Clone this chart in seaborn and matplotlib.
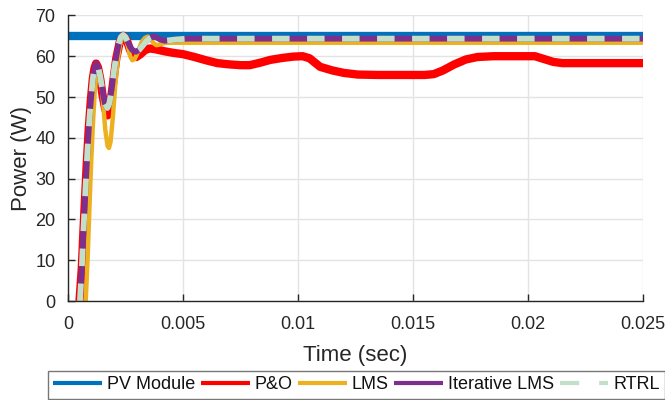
import matplotlib
matplotlib.use("Agg")
import matplotlib.pyplot as plt
import seaborn as sns
import pandas as pd
from matplotlib.lines import Line2D

# ---------------- data (time in ms, power in W) ----------------
t_pv = [0.0, 25.0]
p_pv = [65.0, 65.0]

t_po = [0.5, 0.6, 0.67, 0.74, 0.81, 0.9, 0.99, 1.08, 1.15, 1.22, 1.3, 1.4, 1.5,
        1.62, 1.72, 1.82, 1.95, 2.1, 2.25, 2.4, 2.55, 2.7, 2.85, 2.97, 3.15, 3.35,
        3.55, 3.8, 4.2, 4.6, 5.0, 5.5, 6.0, 6.5, 7.0, 7.5, 7.9, 8.35, 8.8, 9.35,
        9.8, 10.2, 10.5, 10.96, 11.5, 12.0, 12.6, 13.5, 14.5, 15.5, 15.9, 16.3,
        16.8, 17.3, 17.8, 18.5, 19.5, 20.3, 20.7, 21.1, 21.5, 22.5, 25.0]
p_po = [0, 8, 17, 25, 33, 42, 49, 54.5, 57, 58.2, 57.3, 54.5, 50.5,
        47, 45.5, 47.5, 53, 59.5, 63.5, 65, 64, 61.5, 60, 59.8, 60.5, 61.5,
        61.9, 61.7, 61.2, 60.8, 60.5, 59.8, 59, 58.3, 58, 57.8, 57.8, 58.4, 59.1, 59.6,
        59.9, 60, 59.5, 57.4, 56.5, 55.9, 55.5, 55.4, 55.4, 55.4, 55.6, 56.5,
        58, 59.2, 59.8, 60, 60, 60, 59.3, 58.6, 58.3, 58.3, 58.3]

t_lms = [0.77, 0.85, 0.92, 1.0, 1.08, 1.16, 1.24, 1.32, 1.42, 1.52, 1.62, 1.72,
         1.78, 1.85, 1.95, 2.05, 2.15, 2.25, 2.35, 2.42, 2.5, 2.6, 2.7, 2.8, 2.9,
         3.0, 3.1, 3.2, 3.35, 3.48, 3.6, 3.72, 3.84, 3.95, 4.1, 4.3, 4.6, 5.0, 25.0]
p_lms = [0, 10, 21, 33, 43, 51, 56, 57.5, 55, 49, 42, 38,
         37.5, 39, 45, 52.5, 58.5, 62.5, 64.5, 65, 64.5, 62.5, 60, 59, 59.3,
         60.5, 62, 63.5, 64.5, 64.8, 64.2, 63.2, 62.7, 62.8, 63.1, 63.3, 63.3, 63.3, 63.3]

t_ilms = [0.52, 0.6, 0.67, 0.74, 0.81, 0.9, 0.99, 1.08, 1.15, 1.22, 1.3, 1.4, 1.5,
          1.6, 1.71, 1.8, 1.9, 2.0, 2.1, 2.2, 2.3, 2.4, 2.5, 2.6, 2.7, 2.8, 2.96,
          3.1, 3.25, 3.4, 3.55, 3.7, 3.85, 4.0, 4.2, 4.4, 4.7, 5.2, 6.0, 25.0]
p_ilms = [0, 8, 17, 25, 33, 42, 49, 54.5, 57, 58.2, 57.5, 55, 51.5,
          48.5, 47.3, 48.5, 52, 56.5, 60, 63, 64.7, 65.2, 64.7, 63.5, 62.3, 61.5, 61.1,
          61.6, 62.6, 63.7, 64.4, 64.8, 64.6, 64.1, 63.8, 63.9, 64.1, 64.3, 64.3, 64.3]

t_rtrl = [0.52, 0.6, 0.67, 0.74, 0.81, 0.9, 0.99, 1.08, 1.15, 1.22, 1.3, 1.4, 1.5,
          1.6, 1.71, 1.8, 1.9, 2.0, 2.1, 2.2, 2.3, 2.4, 2.5, 2.6, 2.7, 2.8, 2.96,
          3.1, 3.25, 3.4, 3.55, 3.7, 3.85, 4.0, 4.2, 4.4, 4.7, 5.2, 6.0, 25.0]
p_rtrl = [0, 8, 17, 25, 33, 42, 49, 54.5, 57, 58.2, 57.5, 55, 51.5,
          48.5, 47.3, 48.5, 52, 56.5, 60, 63, 64.7, 65.2, 64.7, 63.5, 62.3, 61.5, 61.1,
          61.6, 62.6, 63.7, 64.4, 64.8, 64.6, 64.1, 63.8, 63.9, 64.1, 64.3, 64.3, 64.3]

series_names = ["PV Module", "P&O", "LMS", "Iterative LMS", "RTRL"]
x_ticks = [0, 0.005, 0.01, 0.015, 0.02, 0.025]
x_tick_labels = ["0", "0.005", "0.01", "0.015", "0.02", "0.025"]
y_ticks = [0, 10, 20, 30, 40, 50, 60, 70]

# ---------------- style ----------------
sns.set_theme(style="white")
plt.rcParams["font.family"] = ["Liberation Sans", "DejaVu Sans"]

colors = {"PV Module": "#0072BD", "P&O": "#FF0000", "LMS": "#EDB120",
          "Iterative LMS": "#7E2F8E", "RTRL": "#C2E0C8"}
widths = {"PV Module": 6.0, "P&O": 6.0, "LMS": 3.2, "Iterative LMS": 4.2, "RTRL": 4.2}

frames = []
for name, t, p in [("PV Module", t_pv, p_pv), ("P&O", t_po, p_po), ("LMS", t_lms, p_lms),
                   ("Iterative LMS", t_ilms, p_ilms), ("RTRL", t_rtrl, p_rtrl)]:
    frames.append(pd.DataFrame({"time": [v / 1000.0 for v in t], "power": p, "series": name}))
df = pd.concat(frames, ignore_index=True)

fig = plt.figure(figsize=(6.65, 4.0), dpi=100)
ax = fig.add_axes([68 / 665, 1 - 301 / 400, (643 - 68) / 665, (301 - 15.4) / 400])

for name in series_names:
    sub = df[df["series"] == name]
    sns.lineplot(data=sub, x="time", y="power", ax=ax, color=colors[name],
                 linewidth=widths[name], legend=False, estimator=None, sort=False,
                 solid_capstyle="butt")
rt = ax.get_lines()[-1]
rt.set_dashes([3.0, 3.0])
rt.set_dash_capstyle("butt")

ax.set_xlim(0, 0.025)
ax.set_ylim(0, 70)
ax.set_xticks(x_ticks)
ax.set_xticklabels(x_tick_labels)
ax.set_yticks(y_ticks)
ax.grid(True, color="#e3e3e3", linewidth=1.0)
ax.set_axisbelow(True)
for s in ["top", "right"]:
    ax.spines[s].set_visible(False)
for s in ["left", "bottom"]:
    ax.spines[s].set_color("#262626")
    ax.spines[s].set_linewidth(1.0)
ax.tick_params(axis="both", direction="in", length=5, width=1, color="#262626",
               labelsize=13, labelcolor="#262626", left=True, bottom=True)
ax.tick_params(axis="y", pad=9)
ax.tick_params(axis="x", pad=11)
ax.set_xlabel("Time (sec)", fontsize=16, color="#262626")
ax.set_ylabel("Power (W)", fontsize=16, color="#262626")
ax.xaxis.set_label_coords((355 - 68) / 575, -(345 - 301) / 285.6)
ax.yaxis.set_label_coords(-(68 - 32) / 575, 0.5)

handles = []
for name in series_names:
    if name == "RTRL":
        h = Line2D([], [], color=colors[name], linewidth=3, dashes=[4.6, 4.8],
                   dash_capstyle="butt")
    else:
        h = Line2D([], [], color=colors[name], linewidth=3, solid_capstyle="butt")
    handles.append(h)
leg = fig.legend(handles, series_names, loc="upper left", bbox_to_anchor=(48 / 665, 1 - 371 / 400),
                 ncol=5, frameon=True, fancybox=False, fontsize=13, handlelength=2.7,
                 handletextpad=0.28, columnspacing=0.3, borderpad=0.3, borderaxespad=0)
leg.get_frame().set_edgecolor("#555555")
leg.get_frame().set_linewidth(1.0)
for txt in leg.get_texts():
    txt.set_color("#111111")

fig.savefig("out.png", dpi=100)
